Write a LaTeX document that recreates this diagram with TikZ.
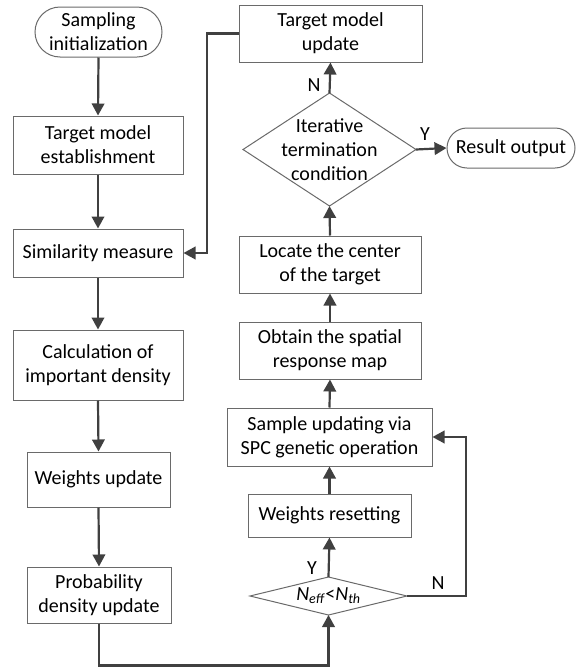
\documentclass[tikz,border=0pt]{standalone}
\usepackage{fontspec}
\setmainfont{Carlito}
\usetikzlibrary{arrows.meta,shapes.misc,calc}
\definecolor{linec}{HTML}{404040}
\definecolor{boxc}{HTML}{6A6A6A}
\begin{document}
\begin{tikzpicture}[x=1pt,y=-1pt,
  font=\fontsize{20}{24}\selectfont,
  box/.style={draw=boxc,line width=1pt,inner sep=0pt,align=center,fill=white},
  term/.style={box,rounded rectangle},
  conn/.style={draw=linec,line width=2.2pt,-{Triangle[length=12pt,width=12.5pt]}},
  lbl/.style={inner sep=0pt}]
\useasboundingbox (0,0) rectangle (583,667);
% left column
\node[term,minimum width=127pt,minimum height=50pt] (samp) at (98.5,32) {Sampling\\initialization};
\node[box,minimum width=170pt,minimum height=58pt] (tme) at (98,145) {Target model\\establishment};
\node[box,minimum width=170pt,minimum height=48pt] (sim) at (98,253) {Similarity measure};
\node[box,minimum width=170pt,minimum height=70pt] (calc) at (98,365) {Calculation of\\important density};
\node[box,minimum width=143pt,minimum height=55pt] (wu) at (98.5,479.5) {Weights update};
\node[box,minimum width=144pt,minimum height=56pt] (pdu) at (99,595) {Probability\\density update};
% right column
\node[box,minimum width=183pt,minimum height=57pt] (tmu) at (330.5,33.5) {Target model\\update};
\coordinate (iterC) at (329.5,149.5);
\coordinate (iterT) at (329.5,93);
\coordinate (iterB) at (329.5,206);
\coordinate (iterL) at (243,149.5);
\coordinate (iterR) at (416,149.5);
\draw[boxc,line width=1pt,fill=white] (iterT) -- (iterR) -- (iterB) -- (iterL) -- cycle;
\node[lbl,align=center] (iter) at (iterC) {Iterative\\termination\\condition};
\node[term,minimum width=128pt,minimum height=40pt] (res) at (511,148) {Result output};
\node[box,minimum width=182pt,minimum height=57pt] (loc) at (330,264.5) {Locate the center\\of the target};
\node[box,minimum width=182pt,minimum height=57pt] (obt) at (330,350.5) {Obtain the spatial\\response map};
\node[box,minimum width=205pt,minimum height=58pt] (sup) at (329.5,437) {Sample updating via\\SPC genetic operation};
\node[box,minimum width=163pt,minimum height=43pt] (wr) at (329.5,515.5) {Weights resetting};
\coordinate (neffC) at (328.5,596);
\coordinate (neffT) at (328.5,577);
\coordinate (neffB) at (328.5,615);
\coordinate (neffL) at (250,596);
\coordinate (neffR) at (407,596);
\draw[boxc,line width=1pt,fill=white] (neffT) -- (neffR) -- (neffB) -- (neffL) -- cycle;
\node[lbl] (neff) at (neffC) {\textit{N}\textsubscript{\textit{eff}}<\textit{N}\textsubscript{\textit{th}}};
% connectors left
\draw[conn] (samp.south) -- (tme.north);
\draw[conn] (tme.south) -- (sim.north);
\draw[conn] (sim.south) -- (calc.north);
\draw[conn] (calc.south) -- (wu.north);
\draw[conn] (wu.south) -- (pdu.north);
\draw[conn] (pdu.south) -- ++(0,42) -| (neffB);
% connectors right
\draw[conn] (neffT) -- (wr.south);
\node[lbl] (ly1) at (312,568) {Y};
\draw[conn] (neffR) -- (466,596) |- (sup.east);
\node[lbl] (ln1) at (438,583) {N};
\draw[conn] (wr.north) -- (sup.south);
\draw[conn] (sup.north) -- (obt.south);
\draw[conn] (obt.north) -- (loc.south);
\draw[conn] (loc.north) -- (iterB);
\draw[conn] (iterT) -- (tmu.south);
\node[lbl] (ln2) at (314,85) {N};
\draw[conn] (iterR) -- (res.west);
\node[lbl] (ly2) at (425,134) {Y};
\draw[conn] (tmu.west) -- (207,33.5) |- (sim.east);
\end{tikzpicture}
\end{document}
